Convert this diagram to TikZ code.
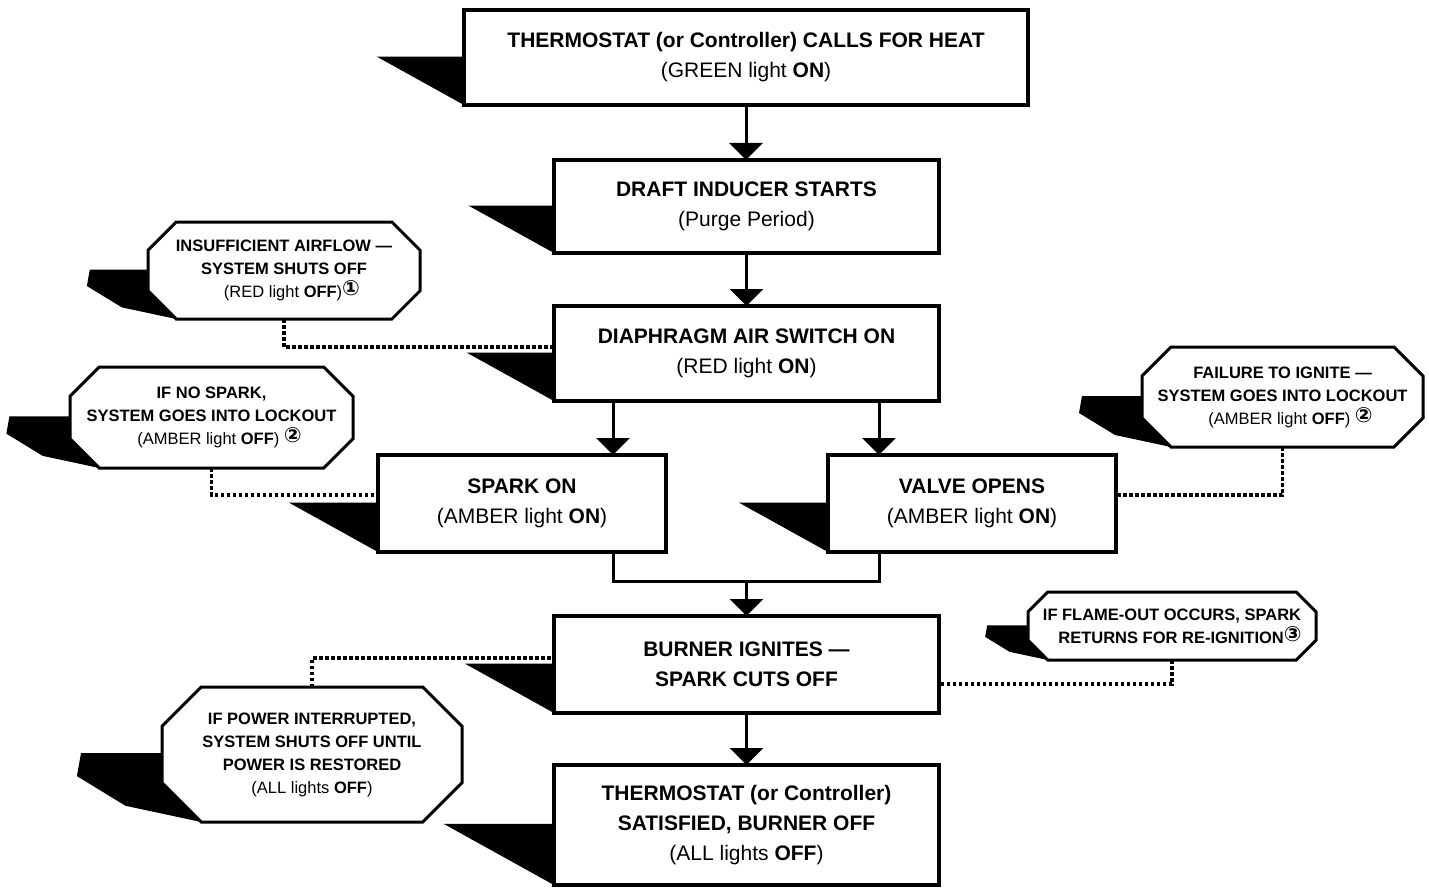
\documentclass[tikz,border=0pt]{standalone}
\usepackage{fontspec}
\setmainfont{Liberation Sans}
\newfontfamily\symfont{DejaVu Sans}
\usetikzlibrary{arrows.meta,backgrounds,calc}

\tikzset{
  caja/.style={draw, line width=3.5pt, fill=white, inner sep=0pt, outer sep=0pt,
    align=center, font=\fontsize{21}{30}\selectfont},
  nota/.style={inner sep=0pt, outer sep=0pt, align=center,
    font=\fontsize{16.5}{23}\selectfont},
  flecha/.style={line width=3pt, -{Triangle[width=33pt,length=17pt]}},
  linea/.style={line width=3pt},
  punteado/.style={line width=3.5pt, dash pattern=on 3.5pt off 2.5pt}
}

% numero en circulo
\newcommand{\circnum}[1]{\raisebox{0.2ex}{\symfont\bfseries\fontsize{21}{21}\selectfont #1}}

% sombra triangular de una caja: nodo, altura
\newcommand{\sombra}[2]{\fill (#1.south west) -- ++(0,-0.51*#2) -- ++(-0.92*#2,0) -- cycle;}

% octagono con sombra alrededor de una nota: nodo, altura
\newcommand{\octagono}[2]{%
  \fill ($(#1.north west)+(0.29*#2,0.49*#2)$) -- ($(#1.north west)+(-0.6*#2,0.49*#2)$)
    -- ($(#1.north west)+(-0.63*#2,0.66*#2)$) -- ($(#1.north west)+(-0.27*#2,0.88*#2)$)
    -- ($(#1.south west)+(0.29*#2,0)$) -- cycle;
  \filldraw[fill=white, line width=3pt]
    ($(#1.north west)+(0.29*#2,0)$) -- ($(#1.north east)+(-0.29*#2,0)$)
    -- ($(#1.north east)+(0,0.29*#2)$) -- ($(#1.south east)+(0,-0.29*#2)$)
    -- ($(#1.south east)+(-0.29*#2,0)$) -- ($(#1.south west)+(0.29*#2,0)$)
    -- ($(#1.south west)+(0,-0.29*#2)$) -- ($(#1.north west)+(0,0.29*#2)$) -- cycle;
}

\begin{document}
\begin{tikzpicture}[x=1pt,y=-1pt]
  \useasboundingbox (0,0) rectangle (1429,888);

  % Cajas principales
  \node[caja, minimum width=564pt, minimum height=95pt] (termo) at (746,57.5)
    {\textbf{THERMOSTAT (or Controller) CALLS FOR HEAT}\\(GREEN light \textbf{ON})};
  \node[caja, minimum width=385pt, minimum height=93pt] (purga) at (746.5,206.5)
    {\textbf{DRAFT INDUCER STARTS}\\(Purge Period)};
  \node[caja, minimum width=385pt, minimum height=95pt] (diafragma) at (746.5,353.5)
    {\textbf{DIAPHRAGM AIR SWITCH ON}\\(RED light \textbf{ON})};
  \node[caja, minimum width=288pt, minimum height=97pt] (chispa) at (522,503.5)
    {\textbf{SPARK ON}\\(AMBER light \textbf{ON})};
  \node[caja, minimum width=288pt, minimum height=97pt] (valvula) at (972,503.5)
    {\textbf{VALVE OPENS}\\(AMBER light \textbf{ON})};
  \node[caja, minimum width=385pt, minimum height=97pt] (quemador) at (746.5,664.5)
    {\textbf{BURNER IGNITES —}\\\textbf{SPARK CUTS OFF}};
  \node[caja, minimum width=385pt, minimum height=120pt] (fin) at (746.5,825)
    {\textbf{THERMOSTAT (or Controller)}\\\textbf{SATISFIED, BURNER OFF}\\(ALL lights \textbf{OFF})};

  % Notas
  \node[nota, minimum width=272pt, minimum height=97pt] (aire) at (284,270.5)
    {\textbf{INSUFFICIENT AIRFLOW —}\\\textbf{SYSTEM SHUTS OFF}\\\hspace*{16pt}(RED light \textbf{OFF})\circnum{①}};
  \node[nota, minimum width=283pt, minimum height=101pt] (nochispa) at (211.5,417.5)
    {\textbf{IF NO SPARK,}\\\textbf{SYSTEM GOES INTO LOCKOUT}\\\hspace*{16pt}(AMBER light \textbf{OFF}) \circnum{②}};
  \node[nota, minimum width=281pt, minimum height=100pt] (fallo) at (1282.5,397)
    {\textbf{FAILURE TO IGNITE —}\\\textbf{SYSTEM GOES INTO LOCKOUT}\\\hspace*{16pt}(AMBER light \textbf{OFF}) \circnum{②}};
  \node[nota, minimum width=288pt, minimum height=68pt] (llama) at (1172,626)
    {\textbf{IF FLAME-OUT OCCURS, SPARK}\\\hspace*{16pt}\textbf{RETURNS FOR RE-IGNITION}\circnum{③}};
  \node[nota, minimum width=300pt, minimum height=135pt] (corte) at (312,754.5)
    {\textbf{IF POWER INTERRUPTED,}\\\textbf{SYSTEM SHUTS OFF UNTIL}\\\textbf{POWER IS RESTORED}\\(ALL lights \textbf{OFF})};

  % Sombras y octagonos
  \begin{scope}[on background layer]
    \sombra{termo}{95}
    \sombra{purga}{93}
    \sombra{diafragma}{95}
    \sombra{chispa}{97}
    \sombra{valvula}{97}
    \sombra{quemador}{97}
    \sombra{fin}{120}
    \octagono{aire}{97}
    \octagono{nochispa}{101}
    \octagono{fallo}{100}
    \octagono{llama}{68}
    \octagono{corte}{135}
  \end{scope}

  % Flechas
  \coordinate (izq) at ([xshift=-133.5pt]diafragma.south);
  \coordinate (der) at ([xshift=132.5pt]diafragma.south);
  \coordinate (union) at (746.5,581);
  \draw[flecha] (termo.south) -- (termo.south |- purga.north);
  \draw[flecha] (purga.south) -- (diafragma.north);
  \draw[flecha] (izq) -- (izq |- chispa.north);
  \draw[flecha] (der) -- (der |- valvula.north);
  \draw[linea] (izq |- chispa.south) |- (union) -| (der |- valvula.south);
  \draw[flecha] (union) -- (quemador.north);
  \draw[flecha] (quemador.south) -- (fin.north);

  % Lineas punteadas
  \draw[punteado] (aire.south) |- ([yshift=6.5pt]diafragma.west);
  \draw[punteado] (nochispa.south) |- ([yshift=8.5pt]chispa.west);
  \draw[punteado] (fallo.south) |- ([yshift=8.5pt]valvula.east);
  \draw[punteado] (corte.north) |- ([yshift=6.5pt]quemador.west);
  \draw[punteado] (llama.south) |- ([yshift=-19.5pt]quemador.east);
\end{tikzpicture}
\end{document}
